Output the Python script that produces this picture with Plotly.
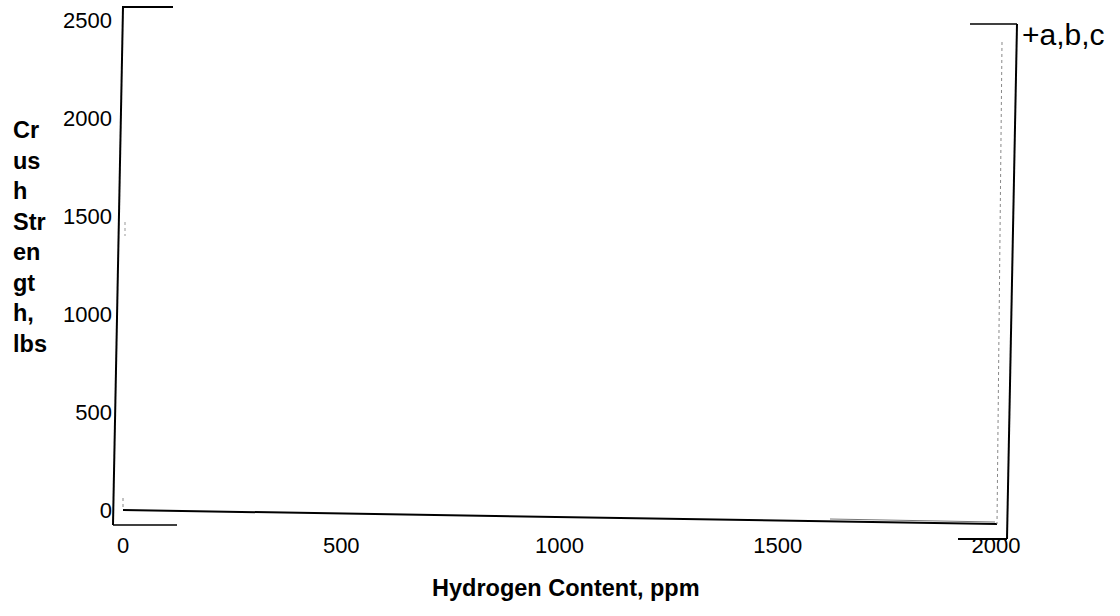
import plotly.graph_objects as go

# ---- data (chart is an empty frame; no data points visible) ----
x_ticks = [0, 500, 1000, 1500, 2000]
y_ticks = [0, 500, 1000, 1500, 2000, 2500]
x_title = "Hydrogen Content, ppm"
y_title_lines = ["Cr", "us", "h", "Str", "en", "gt", "h,", "lbs"]
legend_label = "+a,b,c"

W, H = 1120, 616
def px(x):
    return x / W
def py(y):
    return 1 - y / H

FONT = "Liberation Sans, Arial, sans-serif"

fig = go.Figure()
fig.add_trace(go.Scatter(x=[], y=[], mode="markers", showlegend=False))

fig.update_layout(
    width=W, height=H,
    margin=dict(l=0, r=0, t=0, b=0, pad=0, autoexpand=False),
    paper_bgcolor="white", plot_bgcolor="white",
    showlegend=False,
    xaxis=dict(
        range=[0, 2000], domain=[px(123), px(996)],
        tickvals=x_ticks, ticktext=[str(v) for v in x_ticks],
        showgrid=False, zeroline=False, showline=False, ticks="",
        tickfont=dict(family=FONT, size=22, color="black"),
        ticklabelstandoff=20, automargin=False,
    ),
    yaxis=dict(
        range=[0, 2500], domain=[py(510), py(20)],
        tickvals=y_ticks, ticktext=[str(v) for v in y_ticks],
        showgrid=False, zeroline=False, showline=False, ticks="",
        tickfont=dict(family=FONT, size=22, color="black"),
        ticklabelstandoff=10, automargin=False,
    ),
)

def seg(x0, y0, x1, y1, w=2, color="black", dash="solid"):
    fig.add_shape(type="line", xref="paper", yref="paper",
                  x0=px(x0), y0=py(y0), x1=px(x1), y1=py(y1),
                  line=dict(color=color, width=w, dash=dash))

# scanned, slightly skewed frame fragments
seg(123, 7, 113, 525, 2)
seg(122, 7, 173, 7, 2)
seg(113, 525, 177, 525, 1.5)
seg(123, 510, 997, 524, 2)
seg(830, 519, 995, 522, 1, "#777")
seg(1017, 24, 1007, 539, 2)
seg(970, 24, 1017, 24, 1.5)
seg(958, 539, 1007, 539, 2)
seg(1002, 42, 997, 524, 1, "#888", "dot")
seg(123, 498, 123, 510, 1, "#888", "dot")
seg(125, 222, 125, 236, 1, "#999", "dot")

# y-axis title (stacked lines)
fig.add_annotation(
    xref="paper", yref="paper", x=px(11), y=py(237),
    xanchor="left", yanchor="middle", align="left", showarrow=False,
    text="<br>".join(y_title_lines),
    font=dict(family=FONT, size=23.5, color="black", weight="bold"),
)
# x-axis title
fig.add_annotation(
    xref="paper", yref="paper", x=px(566), y=py(588),
    xanchor="center", yanchor="middle", showarrow=False,
    text=f"<b>{x_title}</b>",
    font=dict(family=FONT, size=23.5, color="black"),
)
# legend label
fig.add_annotation(
    xref="paper", yref="paper", x=px(1020), y=py(34),
    xanchor="left", yanchor="middle", showarrow=False,
    text=legend_label,
    font=dict(family=FONT, size=30, color="black"),
)

fig.write_html("out.html", config={"displayModeBar": False},
               post_script="document.body.style.margin='0px';")
